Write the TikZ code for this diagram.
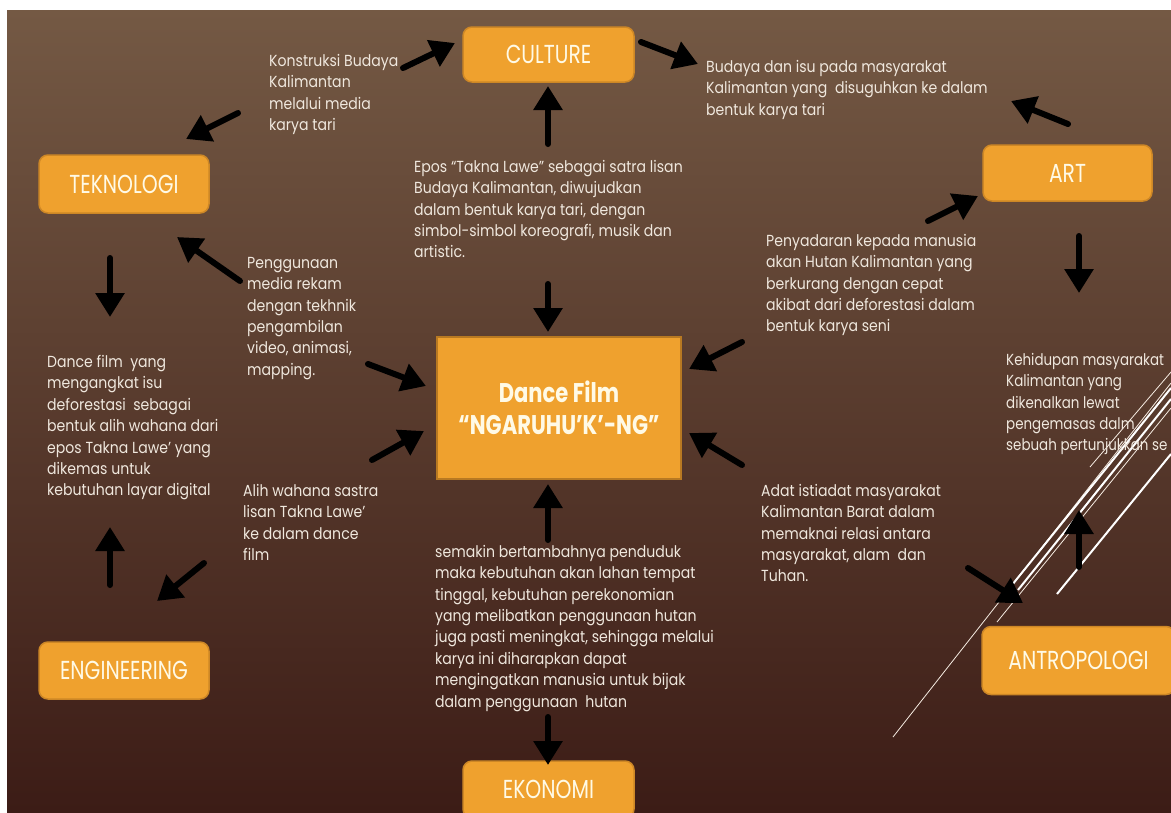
\documentclass[tikz,border=0pt]{standalone}
\usepackage{fontspec}
\setmainfont{Poppins}[FakeStretch=0.88]
\newfontfamily\labelfont{Poppins}[FakeStretch=0.78]
\newfontfamily\edgefont{Poppins}[FakeStretch=0.84]
\usetikzlibrary{arrows.meta}
\usetikzlibrary{positioning}

\definecolor{bgtop}{RGB}{116,89,68}
\definecolor{bgmid}{RGB}{90,62,48}
\definecolor{bgbot}{RGB}{60,28,22}
\definecolor{boxfill}{RGB}{239,161,46}
\definecolor{boxline}{RGB}{205,135,38}
\definecolor{txt}{RGB}{240,232,222}
\definecolor{lbl}{RGB}{255,250,230}

\tikzset{
  box/.style={draw=boxline, line width=1.5pt, fill=boxfill, rounded corners=9pt, text=lbl,
    font=\labelfont\fontsize{26}{30}\selectfont, inner sep=0pt},
  mainbox/.style={draw=boxline!90!black, line width=2pt, fill=boxfill, text=lbl, align=center,
    font=\labelfont\bfseries\fontsize{27}{32}\selectfont, inner sep=0pt,
    minimum width=244pt, minimum height=142pt},
  desc/.style={anchor=north west, align=left, inner sep=0pt, text=txt,
    font=\fontsize{16}{21.4}\selectfont},
  arr/.style={line width=6pt, line cap=round, -{Triangle[length=24pt,width=28pt]}},
  slash/.style={white, line width=2pt},
  slashthin/.style={white!85!brown, line width=0.8pt}
}

\begin{document}
\begin{tikzpicture}[x={(1pt,0)},y={(0,-1pt)}]
\useasboundingbox (0,0) rectangle (1171,812);
\clip (0,0) rectangle (1171,812);
\fill[white] (0,0) rectangle (1171,812);
\shade[top color=bgtop, middle color=bgmid, bottom color=bgbot] (7,10) rectangle (1171,812);

% white slashes, bottom right
\draw[slashthin] (893,737) -- (1171,383);
\draw[slash] (1012,585) -- (1171,388);
\draw[slash] (1018,590) -- (1171,399);
\draw[slashthin] (997,622) -- (1171,408);
\draw[slashthin] (1090,467) -- (1171,372);
\draw[slash] (1057,594) -- (1171,454);

% boxes
\node[box, minimum width=171pt, minimum height=55pt] (culture) at (548.5,54.5) {CULTURE};
\node[box, minimum width=170pt, minimum height=58pt] (teknologi) at (124,184) {TEKNOLOGI};
\node[box, minimum width=169pt, minimum height=56pt] (art) at (1067.5,173) {ART};
\node[box, minimum width=170pt, minimum height=57pt] (engineering) at (124,670.5) {ENGINEERING};
\node[box, minimum width=193pt, minimum height=68pt] (antropologi) at (1078.5,660.5) {ANTROPOLOGI};
\node[box, minimum width=171pt, minimum height=57pt] (ekonomi) at (548.5,789.5) {EKONOMI};
\node[mainbox] (film) at (559,408) {Dance Film\\“NGARUHU’K’-NG”};

% texts
\node[desc] (konstruksi) at (269,54) {Konstruksi Budaya\\Kalimantan\\melalui media\\karya tari};
\node[desc] (budaya) at (706,60) {Budaya dan isu pada masyarakat\\Kalimantan yang~ disuguhkan ke dalam\\bentuk karya tari};
\node[desc] (epos) at (414,160) {Epos “Takna Lawe” sebagai satra lisan\\Budaya Kalimantan, diwujudkan\\dalam bentuk karya tari, dengan\\simbol-simbol koreografi, musik dan\\artistic.};
\node[desc] (penggunaan) at (247,257) {Penggunaan\\media rekam\\dengan tekhnik\\pengambilan\\video, animasi,\\mapping.};
\node[desc] (penyadaran) at (766,234) {Penyadaran kepada manusia\\akan Hutan Kalimantan yang\\berkurang dengan cepat\\akibat dari deforestasi dalam\\bentuk karya seni};
\node[desc] (dancefilm) at (47,355) {Dance film~ yang\\mengangkat isu\\deforestasi~ sebagai\\bentuk alih wahana dari\\epos Takna Lawe’ yang\\dikemas untuk\\kebutuhan layar digital};
\node[desc, font=\edgefont\fontsize{16}{21.4}\selectfont] (kehidupan) at (1006,353) {Kehidupan masyarakat\\Kalimantan yang\\dikenalkan lewat\\pengemasas dalm\\sebuah pertunjukkan se};
\node[desc] (alih) at (243,484) {Alih wahana sastra\\lisan Takna Lawe’\\ke dalam dance\\film};
\node[desc] (adat) at (761,484) {Adat istiadat masyarakat\\Kalimantan Barat dalam\\memaknai relasi antara\\masyarakat, alam~ dan\\Tuhan.};
\node[desc] (semakin) at (435,545) {semakin bertambahnya penduduk\\maka kebutuhan akan lahan tempat\\tinggal, kebutuhan perekonomian\\yang melibatkan penggunaan hutan\\juga pasti meningkat, sehingga melalui\\karya ini diharapkan dapat\\mengingatkan manusia untuk bijak\\dalam penggunaan~ hutan};

% arrow ends
\path (403,68) coordinate (a1s) (455,43) coordinate (a1e);
\path (238,113) coordinate (a2s) (186,139) coordinate (a2e);
\path (641,42) coordinate (a3s) (698,64) coordinate (a3e);
\path (548,144) coordinate (a4s) (548,86) coordinate (a4e);
\path (1068,124) coordinate (a5s) (1011,101) coordinate (a5e);
\path (928,221) coordinate (a6s) (978,196) coordinate (a6e);
\path (1079,236) coordinate (a7s) (1079,293) coordinate (a7e);
\path (240,281) coordinate (a8s) (177,237) coordinate (a8e);
\path (110,258) coordinate (a9s) (110,317) coordinate (a9e);
\path (368,364) coordinate (a10s) (426,386) coordinate (a10e);
\path (372,460) coordinate (a11s) (424,431) coordinate (a11e);
\path (548,284) coordinate (a12s) (548,332) coordinate (a12e);
\path (742,342) coordinate (a13s) (689,369) coordinate (a13e);
\path (742,465) coordinate (a14s) (689,433) coordinate (a14e);
\path (548,540) coordinate (a15s) (548,484) coordinate (a15e);
\path (548,717) coordinate (a16s) (548,765) coordinate (a16e);
\path (110,585) coordinate (a17s) (110,527) coordinate (a17e);
\path (204,563) coordinate (a18s) (157,601) coordinate (a18e);
\path (968,568) coordinate (a19s) (1023,603) coordinate (a19e);
\path (1079,567) coordinate (a20s) (1079,510) coordinate (a20e);

% arrows
\draw[arr] (a1s) -- (a1e);
\draw[arr] (a2s) -- (a2e);
\draw[arr] (a3s) -- (a3e);
\draw[arr] (a4s) -- (a4e);
\draw[arr] (a5s) -- (a5e);
\draw[arr] (a6s) -- (a6e);
\draw[arr] (a7s) -- (a7e);
\draw[arr] (a8s) -- (a8e);
\draw[arr] (a9s) -- (a9e);
\draw[arr] (a10s) -- (a10e);
\draw[arr] (a11s) -- (a11e);
\draw[arr] (a12s) -- (a12e);
\draw[arr] (a13s) -- (a13e);
\draw[arr] (a14s) -- (a14e);
\draw[arr] (a15s) -- (a15e);
\draw[arr] (a16s) -- (a16e);
\draw[arr] (a17s) -- (a17e);
\draw[arr] (a18s) -- (a18e);
\draw[arr] (a19s) -- (a19e);
\draw[arr] (a20s) -- (a20e);

\end{tikzpicture}
\end{document}
